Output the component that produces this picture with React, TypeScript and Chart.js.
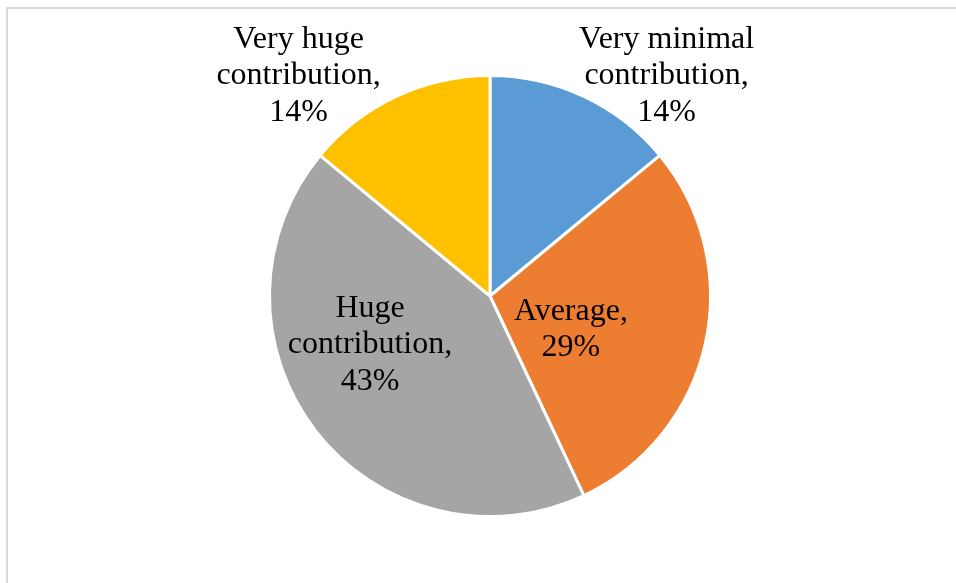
import React, { useEffect, useRef } from "react";
import { Chart, registerables } from "chart.js";

Chart.register(...registerables);

const categories = [
  "Very minimal contribution",
  "Average",
  "Huge contribution",
  "Very huge contribution",
];
const percentages = [14, 29, 43, 14];
const sliceColors = ["#5B9BD5", "#ED7D31", "#A5A5A5", "#FFC000"];

// label anchor offsets relative to pie centre, in units of radius
const labelAnchors = [
  [0.801, -1.011],
  [0.367, 0.141],
  [-0.544, 0.209],
  [-0.868, -1.011],
];

function labelLines(cat: string, pct: number): string[] {
  const words = cat.split(" ");
  const lines: string[] = [];
  if (words.length > 1) {
    lines.push(words.slice(0, -1).join(" "));
    lines.push(words[words.length - 1] + ",");
  } else {
    lines.push(cat + ",");
  }
  lines.push(pct + "%");
  return lines;
}

const labelPlugin = {
  id: "pieLabels",
  afterDatasetsDraw(chart: any) {
    const ctx = chart.ctx;
    const meta = chart.getDatasetMeta(0);
    const fontSize = 32;
    const lineH = 36.5;
    ctx.save();
    ctx.font = `${fontSize}px "Liberation Serif", "Times New Roman", serif`;
    ctx.fillStyle = "#000000";
    ctx.textAlign = "center";
    ctx.textBaseline = "alphabetic";
    meta.data.forEach((arc: any, i: number) => {
      const r = arc.outerRadius;
      const cx = arc.x + labelAnchors[i][0] * r;
      const cy = arc.y + labelAnchors[i][1] * r;
      const lines = labelLines(categories[i], percentages[i]);
      const n = lines.length;
      lines.forEach((t, j) => {
        const y = cy + (j - (n - 1) / 2) * lineH + 11;
        ctx.fillText(t, cx, y);
      });
    });
    ctx.restore();
  },
};

export default function App() {
  const canvasRef = useRef<HTMLCanvasElement | null>(null);
  useEffect(() => {
    if (!canvasRef.current) return;
    const chart = new Chart(canvasRef.current, {
      type: "pie",
      data: {
        labels: categories,
        datasets: [
          {
            data: percentages,
            backgroundColor: sliceColors,
            borderColor: "#ffffff",
            borderWidth: 3,
          },
        ],
      },
      options: {
        animation: false,
        responsive: false,
        maintainAspectRatio: false,
        layout: { padding: { left: 250, right: 226, top: 74, bottom: 65 } },
        plugins: {
          legend: { display: false },
          tooltip: { enabled: false },
        },
      },
      plugins: [labelPlugin],
    });
    return () => chart.destroy();
  }, []);

  return (
    <div
      style={{
        position: "fixed",
        left: 0,
        top: 0,
        width: 956,
        height: 583,
        overflow: "hidden",
        background: "#ffffff",
      }}
    >
      <div
        style={{
          position: "absolute",
          left: 6,
          top: 7,
          width: 1200,
          height: 1200,
          border: "2px solid #d9d9d9",
          boxSizing: "border-box",
        }}
      />
      <canvas
        ref={canvasRef}
        width={956}
        height={583}
        style={{ position: "absolute", left: 0, top: 0, width: 956, height: 583 }}
      />
    </div>
  );
}
